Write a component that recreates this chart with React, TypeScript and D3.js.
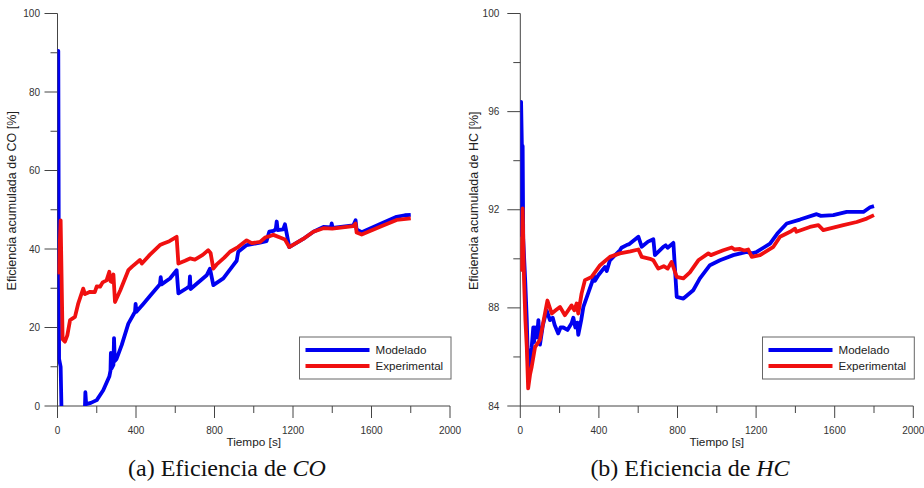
import React, { useEffect, useRef } from 'react';
import * as d3 from 'd3';

// CO panel
const coModelT = [0, 4, 8, 16, 20, 24, 138, 140, 142, 146, 170, 200, 233, 264, 270, 272, 275, 285, 288, 292, 301, 327, 361, 395, 398, 402, 437, 471, 522, 526, 530, 573, 607, 616, 658, 672, 675, 678, 760, 777, 794, 845, 896, 913, 921, 964, 1032, 1065, 1079, 1100, 1112, 1117, 1122, 1150, 1159, 1181, 1250, 1304, 1355, 1394, 1397, 1402, 1507, 1519, 1524, 1550, 1650, 1728, 1770, 1800];
const coModelV = [35, 90.5, 12, 10, 0, -8, -8, 0, 3.5, 0.5, 0.8, 1.5, 4, 7.5, 9, 13.5, 9.5, 10.5, 17.3, 11.5, 12, 15.5, 21, 24, 26, 24, 26, 28, 31, 32.8, 31, 32.5, 34.6, 28.7, 30, 30.5, 33, 29.8, 33.3, 35, 30.8, 32.5, 35.9, 37, 39.3, 41, 41.6, 42, 44.4, 44.6, 45, 47, 44.8, 45, 46.3, 40.5, 42.5, 44.4, 45.6, 45.5, 46.5, 45.4, 46, 47.3, 45, 44.3, 46.5, 48.2, 48.6, 48.7];
const coExpT = [0, 6, 16, 26, 38, 50, 64, 89, 105, 131, 140, 166, 190, 200, 217, 230, 250, 264, 270, 276, 285, 293, 320, 361, 380, 420, 430, 470, 522, 540, 570, 607, 616, 650, 675, 700, 740, 768, 780, 794, 810, 850, 879, 920, 964, 990, 1032, 1060, 1083, 1100, 1134, 1159, 1181, 1250, 1304, 1355, 1400, 1507, 1519, 1524, 1550, 1650, 1728, 1800];
const coExpV = [36, 34, 47.3, 17, 16.4, 18, 21.9, 22.7, 26, 29.9, 28.5, 29.1, 29, 30.5, 30.4, 31.5, 32, 34.2, 31.8, 31.6, 33.5, 26.5, 29.5, 34.6, 35.5, 37.2, 36.3, 38.5, 41, 41.4, 42, 43.1, 36.3, 37, 37.6, 37.3, 38.5, 39.7, 39, 35, 36, 37.8, 39.3, 40.5, 42.2, 41.5, 41.8, 43, 43.3, 43.6, 42.9, 42.4, 40.5, 42.5, 44.4, 45.3, 45.2, 45.8, 46.5, 44.2, 43.7, 45.8, 47.4, 47.8];

// HC panel
const hcModelT = [0, 4, 8, 12, 15, 25, 33, 40, 50, 58, 66, 70, 75, 85, 92, 100, 115, 134, 151, 165, 175, 193, 205, 219, 240, 261, 270, 280, 290, 295, 310, 321, 363, 375, 380, 397, 431, 440, 456, 507, 515, 541, 555, 601, 618, 650, 677, 685, 728, 740, 750, 779, 796, 830, 880, 914, 965, 1016, 1084, 1152, 1180, 1203, 1271, 1308, 1356, 1423, 1508, 1530, 1593, 1661, 1746, 1780, 1800];
const hcModelV = [90.9, 96.4, 94.6, 94.6, 90.8, 89.1, 87.5, 85.4, 85.9, 86.4, 87.2, 86.6, 87.2, 86.8, 87.5, 86.5, 87.3, 87.9, 87.5, 87.6, 87.3, 86.96, 87.2, 87.2, 87.1, 87.37, 87.6, 87.2, 87.4, 86.9, 87.5, 88.04, 89, 89.3, 89.1, 89.33, 89.67, 89.5, 89.94, 90.35, 90.45, 90.56, 90.6, 90.9, 90.49, 90.7, 90.8, 90.15, 90.49, 90.55, 90.45, 90.65, 88.45, 88.38, 88.72, 89.2, 89.74, 89.94, 90.15, 90.28, 90.22, 90.28, 90.62, 91.03, 91.44, 91.6, 91.82, 91.75, 91.78, 91.91, 91.91, 92.1, 92.15];
const hcExpT = [0, 6, 12, 19, 26, 33, 40, 50, 58, 75, 100, 138, 160, 180, 202, 227, 261, 275, 287, 295, 312, 329, 363, 406, 430, 456, 507, 560, 601, 618, 660, 677, 702, 730, 750, 770, 796, 830, 863, 906, 957, 970, 1033, 1076, 1090, 1118, 1140, 1160, 1178, 1220, 1288, 1322, 1373, 1398, 1405, 1474, 1517, 1542, 1644, 1712, 1763, 1800];
const hcExpV = [89.5, 89.6, 92.05, 89.13, 87.5, 86.4, 84.72, 85.3, 85.6, 86.4, 86.7, 88.3, 87.77, 87.9, 88.04, 87.7, 88.1, 87.9, 88.18, 87.77, 88.59, 89.13, 89.26, 89.74, 89.9, 90.08, 90.22, 90.3, 90.38, 90.08, 90.0, 89.94, 89.6, 89.7, 89.6, 89.87, 89.26, 89.2, 89.45, 89.94, 90.22, 90.15, 90.35, 90.46, 90.38, 90.4, 90.34, 90.38, 90.08, 90.15, 90.49, 90.9, 91.1, 91.23, 91.1, 91.3, 91.37, 91.17, 91.37, 91.5, 91.64, 91.78];

const xMajor = [0, 400, 800, 1200, 1600, 2000];
const xMinor = [200, 600, 1000, 1400, 1800];
const coYMajor = [0, 20, 40, 60, 80, 100];
const coYMinor = [10, 30, 50, 70, 90];
const hcYMajor = [84, 88, 92, 96, 100];
const hcYMinor = [86, 90, 94, 98];

const seriesNames = ['Modelado', 'Experimental'];
const BLUE = '#0000f0';
const RED = '#f01010';
const SANS = 'Arial, "Liberation Sans", sans-serif';

const drawPanel = (svg, p) => {
    const x = d3.scaleLinear().domain([0, 2000]).range([p.left, p.right]);
    const y = d3.scaleLinear().domain(p.yDomain).range([p.bottom, p.top]);
    const axisColor = '#444';

    const clipId = 'clip-' + p.id;
    svg.append('clipPath').attr('id', clipId)
        .append('rect')
        .attr('x', p.left).attr('y', p.top - 4)
        .attr('width', p.right - p.left).attr('height', p.bottom - p.top + 4);

    // y axis
    svg.append('line')
        .attr('x1', p.left).attr('x2', p.left)
        .attr('y1', p.top).attr('y2', p.bottom)
        .attr('stroke', axisColor);
    svg.selectAll(null).data(p.yMajor).enter().append('line')
        .attr('x1', p.left - 13).attr('x2', p.left)
        .attr('y1', d => y(d)).attr('y2', d => y(d))
        .attr('stroke', axisColor);
    svg.selectAll(null).data(p.yMinor).enter().append('line')
        .attr('x1', p.left - 7).attr('x2', p.left)
        .attr('y1', d => y(d)).attr('y2', d => y(d))
        .attr('stroke', axisColor);
    svg.selectAll(null).data(p.yMajor).enter().append('text')
        .attr('x', p.left - p.labelGap)
        .attr('y', d => y(d))
        .attr('dy', '0.35em')
        .attr('text-anchor', 'end')
        .style('font-family', SANS).style('font-size', '10px')
        .attr('fill', '#333')
        .text(d => d);

    // x axis
    svg.append('line')
        .attr('x1', p.left).attr('x2', p.right)
        .attr('y1', p.bottom).attr('y2', p.bottom)
        .attr('stroke', axisColor);
    svg.selectAll(null).data(xMajor).enter().append('line')
        .attr('x1', d => x(d)).attr('x2', d => x(d))
        .attr('y1', p.bottom).attr('y2', p.bottom + 12)
        .attr('stroke', axisColor);
    svg.selectAll(null).data(xMinor).enter().append('line')
        .attr('x1', d => x(d)).attr('x2', d => x(d))
        .attr('y1', p.bottom).attr('y2', p.bottom + 7)
        .attr('stroke', axisColor);
    svg.selectAll(null).data(xMajor).enter().append('text')
        .attr('x', d => x(d))
        .attr('y', p.bottom + 28)
        .attr('text-anchor', 'middle')
        .style('font-family', SANS).style('font-size', '10px')
        .attr('fill', '#333')
        .text(d => d);

    svg.append('text')
        .attr('x', (p.left + p.right) / 2)
        .attr('y', p.bottom + 40)
        .attr('text-anchor', 'middle')
        .style('font-family', SANS).style('font-size', '11.8px')
        .attr('fill', '#222')
        .text('Tiempo [s]');

    svg.append('text')
        .attr('transform', `translate(${p.left - 42},${(p.top + p.bottom) / 2 - 9}) rotate(-90)`)
        .attr('text-anchor', 'middle')
        .style('font-family', SANS).style('font-size', '12.5px')
        .attr('fill', '#222')
        .text(p.yLabel);

    // series
    const line = d3.line()
        .x(d => x(d[0]))
        .y(d => y(d[1]));
    const series = [
        { t: p.modelT, v: p.modelV, color: BLUE },
        { t: p.expT, v: p.expV, color: RED }
    ];
    series.forEach(s => {
        svg.append('path')
            .datum(s.t.map((t, i) => [t, s.v[i]]))
            .attr('clip-path', `url(#${clipId})`)
            .attr('d', line)
            .attr('fill', 'none')
            .attr('stroke', s.color)
            .attr('stroke-width', 3.8)
            .attr('stroke-linejoin', 'round');
    });

    // legend
    const lg = svg.append('g').attr('transform', `translate(${p.legendX},337)`);
    lg.append('rect')
        .attr('x', 0).attr('y', 0)
        .attr('width', p.right + 1 - p.legendX).attr('height', 42)
        .attr('fill', '#fff')
        .attr('stroke', '#666');
    seriesNames.forEach((name, i) => {
        lg.append('line')
            .attr('x1', 6).attr('x2', 70)
            .attr('y1', 13 + i * 16).attr('y2', 13 + i * 16)
            .attr('stroke', i === 0 ? BLUE : RED)
            .attr('stroke-width', 3.8);
        lg.append('text')
            .attr('x', 76).attr('y', 13 + i * 16)
            .attr('dy', '0.35em')
            .style('font-family', SANS).style('font-size', '11.6px')
            .attr('fill', '#222')
            .text(name);
    });

    // caption
    const cap = svg.append('text')
        .attr('x', p.captionX)
        .attr('y', 476)
        .attr('text-anchor', 'middle')
        .style('font-family', '"Liberation Serif", "DejaVu Serif", serif')
        .style('font-size', '24px')
        .attr('fill', '#111');
    cap.append('tspan').text(p.captionA);
    cap.append('tspan').style('font-style', 'italic').text(p.captionB);
};

export default function App() {
    const svgRef = useRef(null);

    useEffect(() => {
        const svg = d3.select(svgRef.current);
        svg.selectAll('*').remove();
        svg.append('rect').attr('width', 924).attr('height', 488).attr('fill', '#fff');

        drawPanel(svg, {
            id: 'co', left: 57.5, right: 450, top: 13.5, bottom: 406,
            yDomain: [0, 100], yMajor: coYMajor, yMinor: coYMinor, labelGap: 17.5,
            yLabel: 'Eficiencia acumulada de CO [%]',
            modelT: coModelT, modelV: coModelV, expT: coExpT, expV: coExpV,
            legendX: 299.5, captionX: 227,
            captionA: '(a) Eficiencia de ', captionB: 'CO'
        });
        drawPanel(svg, {
            id: 'hc', left: 520.3, right: 913.3, top: 13.5, bottom: 406,
            yDomain: [84, 100], yMajor: hcYMajor, yMinor: hcYMinor, labelGap: 21,
            yLabel: 'Eficiencia acumulada de HC [%]',
            modelT: hcModelT, modelV: hcModelV, expT: hcExpT, expV: hcExpV,
            legendX: 762.5, captionX: 690,
            captionA: '(b) Eficiencia de ', captionB: 'HC'
        });
    }, []);

    return (
        <svg
            ref={svgRef}
            width={924}
            height={488}
            style={{ position: 'absolute', left: 0, top: 0, display: 'block' }}
        />
    );
}
